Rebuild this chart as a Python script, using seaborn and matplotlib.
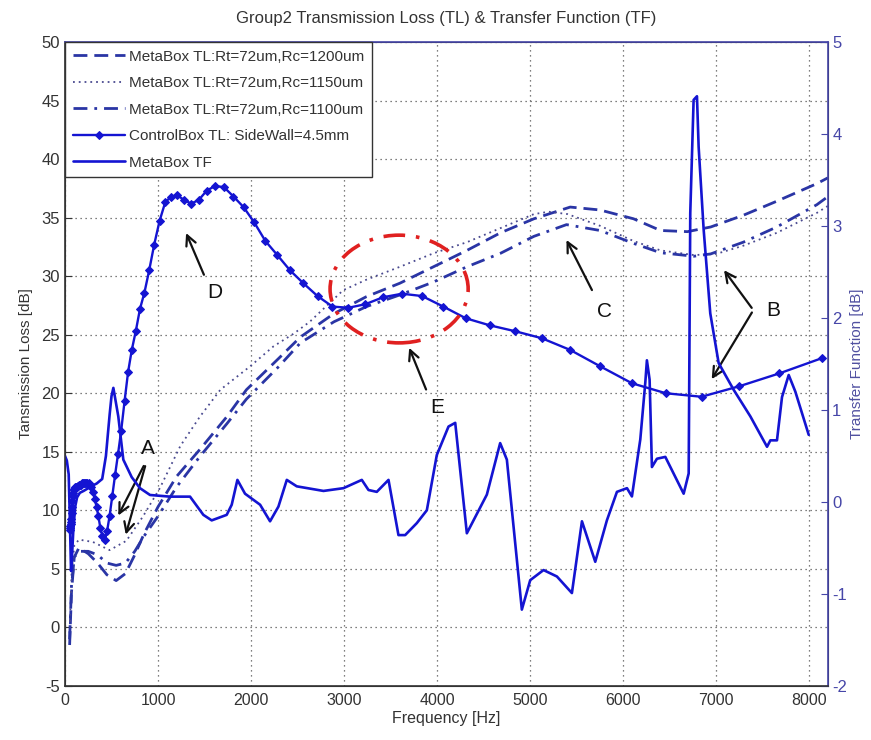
import numpy as np
import pandas as pd
import matplotlib
matplotlib.use("Agg")
import matplotlib.pyplot as plt
from matplotlib.patches import Ellipse
import seaborn as sns

# ---------------- data ----------------
cb_freq = [50, 53, 56, 60, 63, 67, 71, 76, 80, 85, 90, 95, 101, 107, 113, 120, 127, 135,
           143, 151, 160, 170, 180, 190, 202, 214, 226, 240, 254, 269, 285, 302, 320, 339,
           359, 380, 403, 427, 452, 479, 508, 538, 570, 604, 640, 678, 718, 761, 806, 854,
           905, 959, 1016, 1077, 1141, 1209, 1280, 1357, 1437, 1523, 1613, 1709, 1811,
           1919, 2033, 2154, 2282, 2418, 2561, 2714, 2875, 3046, 3227, 3419, 3623, 3838,
           4066, 4308, 4565, 4836, 5124, 5429, 5752, 6094, 6457, 6841, 7248, 7679, 8136]
cb_tl = [8.3, 8.5, 8.7, 8.8, 9.0, 9.3, 9.8, 10.3, 10.8, 11.2, 11.5, 11.7, 11.8, 11.9, 12.0,
         12.0, 12.0, 12.1, 12.1, 12.2, 12.2, 12.2, 12.3, 12.3, 12.3, 12.3, 12.3, 12.3, 12.3,
         12.2, 12.0, 11.6, 11.0, 10.3, 9.5, 8.5, 7.8, 7.5, 8.2, 9.5, 11.2, 13.0, 14.8, 16.8,
         19.3, 21.8, 23.7, 25.3, 27.2, 28.6, 30.5, 32.7, 34.7, 36.3, 36.8, 36.9, 36.5, 36.2,
         36.5, 37.3, 37.7, 37.6, 36.8, 35.9, 34.6, 33.0, 31.8, 30.5, 29.4, 28.3, 27.4, 27.3,
         27.6, 28.2, 28.5, 28.3, 27.4, 26.4, 25.8, 25.3, 24.7, 23.7, 22.3, 20.85, 20.0, 19.7,
         20.6, 21.7, 23.0]

tl1200_freq = [50, 70, 100, 150, 250, 350, 450, 550, 650, 750, 850, 1000, 1200, 1450, 1740,
               1950, 2300, 2530, 2890, 3240, 3600, 3960, 4320, 4680, 5040, 5430, 5750, 6110,
               6400, 6690, 6940, 7290, 7650, 8080, 8200]
tl1200 = [-1.5, 3.0, 6.0, 6.8, 6.3, 5.5, 4.5, 4.0, 4.6, 6.2, 8.0, 10.3, 12.9, 15.2, 18.0,
          20.3, 23.0, 24.8, 26.8, 28.25, 29.4, 30.8, 32.2, 33.7, 34.9, 35.9, 35.65, 34.9,
          33.9, 33.8, 34.2, 35.2, 36.4, 37.9, 38.4]

tl1150_freq = [50, 70, 100, 150, 300, 480, 660, 840, 1020, 1240, 1450, 1670, 1990, 2240,
               2460, 2630, 2990, 3240, 3600, 3960, 4320, 4680, 5040, 5200, 5400, 5750, 6110,
               6400, 6760, 7000, 7290, 7650, 8080, 8200]
tl1150 = [-0.5, 4.5, 7.0, 7.5, 7.3, 6.6, 7.4, 9.5, 11.9, 15.5, 18.0, 20.3, 22.3, 24.0, 25.1,
          26.1, 28.8, 29.7, 30.8, 31.95, 32.9, 34.1, 35.3, 35.5, 35.3, 34.3, 33.0, 32.2,
          31.8, 31.9, 32.6, 33.7, 35.4, 36.0]

tl1100_freq = [50, 70, 100, 150, 250, 350, 450, 550, 650, 750, 850, 1000, 1200, 1450, 1740,
               1950, 2300, 2530, 2890, 3240, 3600, 3960, 4320, 4680, 5040, 5390, 5750, 6110,
               6400, 6760, 6940, 7290, 7650, 8080, 8200]
tl1100 = [-1.0, 3.5, 6.0, 6.5, 6.5, 6.2, 5.5, 5.3, 5.5, 6.5, 7.8, 9.5, 12.0, 14.6, 17.4,
          19.5, 22.3, 24.3, 26.1, 27.4, 28.4, 29.5, 30.8, 31.95, 33.4, 34.4, 33.9, 32.8,
          32.0, 31.7, 31.9, 32.9, 34.2, 36.1, 36.8]

tf_freq = [0, 20, 40, 55, 65, 75, 90, 110, 130, 160, 200, 250, 300, 340, 400, 440, 480, 500,
           520, 573, 627, 717, 806, 914, 1129, 1344, 1487, 1577, 1738, 1792, 1853, 1935, 2097,
           2204, 2294, 2384, 2491, 2778, 2993, 3190, 3262, 3351, 3477, 3584, 3656, 3781, 3889,
           3996, 4122, 4194, 4319, 4534, 4677, 4749, 4910, 5000, 5143, 5287, 5448, 5556, 5699,
           5824, 5932, 6040, 6093, 6183, 6237, 6254, 6283, 6308, 6362, 6452, 6649, 6703, 6720,
           6756, 6792, 6810, 6864, 6935, 7025, 7186, 7366, 7545, 7581, 7652, 7706, 7778, 7849,
           7993]
tf_val = [0.5, 0.45, 0.3, -0.3, -0.75, -0.6, -0.3, -0.05, 0.05, 0.1, 0.12, 0.15, 0.18, 0.2,
          0.25, 0.5, 0.95, 1.15, 1.24, 0.93, 0.46, 0.27, 0.15, 0.076, 0.058, 0.058, -0.14, -0.2,
          -0.14, -0.03, 0.24, 0.09, -0.03, -0.21, -0.05, 0.24, 0.17, 0.12, 0.15, 0.24, 0.13,
          0.11, 0.24, -0.36, -0.36, -0.23, -0.09, 0.51, 0.82, 0.86, -0.34, 0.08, 0.64, 0.46,
          -1.17, -0.85, -0.74, -0.81, -0.99, -0.21, -0.65, -0.2, 0.11, 0.15, 0.06, 0.68, 1.3,
          1.54, 1.33, 0.38, 0.47, 0.49, 0.09, 0.31, 3.14, 4.37, 4.41, 3.86, 2.96, 2.05, 1.51,
          1.22, 0.93, 0.6, 0.67, 0.67, 1.14, 1.38, 1.2, 0.73]

labels = ["MetaBox TL:Rt=72um,Rc=1200um", "MetaBox TL:Rt=72um,Rc=1150um",
          "MetaBox TL:Rt=72um,Rc=1100um", "ControlBox TL: SideWall=4.5mm", "MetaBox TF"]

# annotations: (letter, text_xy, [arrow tails], [arrow heads]) in data units of left axis
ann_letters = ["A", "B", "C", "D", "E"]
ann_text = [(892, 15.3), (7613, 27.1), (5796, 27.0), (1613, 28.6), (4000, 18.75)]
ann_tails = [[(860, 14.0), (870, 14.0)], [(7398, 27.1), (7398, 27.1)], [(5677, 28.6)],
             [(1505, 29.9)], [(3892, 20.1)]]
ann_heads = [[(559, 9.35), (645, 7.7)], [(7065, 30.7), (6935, 21.0)], [(5376, 33.3)],
             [(1290, 33.9)], [(3688, 24.1)]]

# ---------------- style ----------------
sns.set_style("white")
plt.rcParams['font.family'] = ['Liberation Sans', 'DejaVu Sans']
plt.rcParams['axes.unicode_minus'] = False

blue = '#1414d2'
navy = '#2a35a5'
axcol = '#4646a8'

fig = plt.figure(figsize=(8.71, 7.40), dpi=100)
ax = fig.add_axes([0.0746, 0.073, 0.876, 0.8703])
ax2 = ax.twinx()

df1 = pd.DataFrame({"f": tl1200_freq, "v": tl1200})
df2 = pd.DataFrame({"f": tl1150_freq, "v": tl1150})
df3 = pd.DataFrame({"f": tl1100_freq, "v": tl1100})
dfc = pd.DataFrame({"f": cb_freq, "v": cb_tl})
dft = pd.DataFrame({"f": tf_freq, "v": tf_val})

sns.lineplot(data=df1, x="f", y="v", ax=ax, color=navy, lw=2.0,
             linestyle=(0, (5, 2.5)), sort=False, label=labels[0], legend=False)
sns.lineplot(data=df2, x="f", y="v", ax=ax, color='#4a4a90', lw=1.3,
             linestyle=(0, (1, 2.2)), sort=False, label=labels[1], legend=False)
sns.lineplot(data=df3, x="f", y="v", ax=ax, color=navy, lw=2.0,
             linestyle=(0, (5, 2.5, 1, 2.5)), sort=False, label=labels[2], legend=False)
sns.lineplot(data=dfc, x="f", y="v", ax=ax, color=blue, lw=1.7, marker='D',
             markersize=4.5, markeredgecolor=blue, sort=False, label=labels[3], legend=False)
sns.lineplot(data=dft, x="f", y="v", ax=ax2, color=blue, lw=1.9, sort=False,
             label=labels[4], legend=False)

ax.set_xlim(0, 8200)
ax.set_ylim(-5, 50)
ax2.set_ylim(-2, 5)
ax.set_xticks(np.arange(0, 8001, 1000))
ax.set_yticks(np.arange(-5, 51, 5))
ax2.set_yticks(np.arange(-2, 6, 1))

ax.grid(True, linestyle=(0, (1, 3)), color='#555555', lw=0.9)
ax2.grid(False)

ax.tick_params(axis='both', direction='in', length=5, colors='#333333', labelsize=12)
ax.tick_params(axis='x', labelsize=11.5, pad=5)
ax2.tick_params(axis='y', direction='in', length=5, colors=axcol, labelsize=12, pad=3)
ax.set_xlabel("Frequency [Hz]", fontsize=11.5, color='#333333', labelpad=2)
ax.set_ylabel("Tansmission Loss [dB]", fontsize=11, color='#333333', labelpad=6)
ax2.set_ylabel("Transfer Function [dB]", fontsize=11, color='#5050a0', labelpad=2)
ax.set_title("Group2 Transmission Loss (TL) & Transfer Function (TF)", fontsize=12,
             color='#333333', pad=14)

for s in ['left', 'bottom']:
    ax.spines[s].set_color('#333333')
ax2.spines['right'].set_color(axcol)
ax2.spines['top'].set_color(axcol)
ax2.spines['left'].set_color('#333333')
ax2.spines['bottom'].set_color('#333333')
for s in ax2.spines.values():
    s.set_linewidth(1.2)

# legend combining both axes
h1, l1 = ax.get_legend_handles_labels()
h2, l2 = ax2.get_legend_handles_labels()
leg = ax2.legend(h1 + h2, l1 + l2, loc='upper left', fontsize=11, frameon=True,
                 fancybox=False, framealpha=1, edgecolor='#333333', borderaxespad=0,
                 handlelength=3.4, handletextpad=0.3, labelspacing=0.82, borderpad=0.5)
leg.get_frame().set_linewidth(1.0)
for t in leg.get_texts():
    t.set_color('#333333')

# red ellipse
ell = Ellipse((3591, 28.9), 1484, 9.2, fill=False, edgecolor='#e02020', lw=2.6,
              linestyle=(0, (6, 3, 1, 3)), zorder=5)
ax.add_patch(ell)

# annotations
for letter, txy, tails, heads in zip(ann_letters, ann_text, ann_tails, ann_heads):
    ax.text(txy[0], txy[1], letter, fontsize=15, ha='center', va='center', color='#111111',
            zorder=6)
    for tl, hd in zip(tails, heads):
        ax.annotate("", xy=hd, xytext=tl,
                    arrowprops=dict(arrowstyle='->', color='#111111', lw=1.6,
                                    mutation_scale=18), zorder=6)

fig.savefig("out.png", dpi=100)
